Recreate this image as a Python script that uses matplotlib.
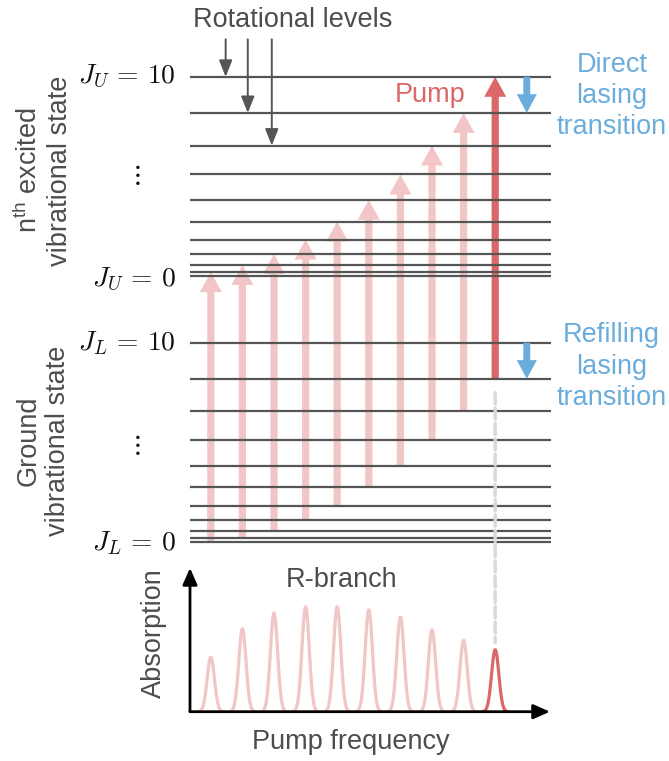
import numpy as np
import matplotlib
matplotlib.use('Agg')
import matplotlib.pyplot as plt
from matplotlib.patches import FancyArrowPatch, ConnectionPatch, ArrowStyle

plt.rcParams['font.family'] = 'Liberation Sans'
plt.rcParams['mathtext.fontset'] = 'custom'
plt.rcParams['mathtext.rm'] = 'Liberation Sans'
plt.rcParams['mathtext.it'] = 'Liberation Sans:italic'

# ---------------- data ----------------
J = np.arange(11)                      # rotational quantum numbers 0..10
UPPER_OFFSET = 147                     # gap between J_L=0 and J_U=0 (arb. units)
E_lower = J * (J + 1)
E_upper = UPPER_OFFSET + J * (J + 1)

pump_lines = np.arange(10)             # R(0) ... R(9): J_L -> J_U = J_L + 1
absorption = [0.52, 0.79, 0.94, 1.00, 1.00, 0.97, 0.90, 0.78, 0.68, 0.59]
lasing_line = 9                        # the line that is pumped

pointer_x = [0.47, 1.17, 1.93]         # "Rotational levels" pointers
pointer_J = [10, 9, 8]

# ---------------- layout / style ----------------
W, H = 669, 761
X0, DX = 210.8, 31.6                   # pixel x of line 0, pixels per line
Y0, DY = 541.7, 1.809                  # pixel y of E=0, pixels per energy unit

GRAY = '#555555'
TEXT = '#4d4d4d'
PINK = '#f2c6c6'
RED = '#db6769'
BLUE = '#6aaddc'
FS = 19.5

fig = plt.figure(figsize=(W / 100, H / 100), dpi=100)
ax = fig.add_axes([0, 0, 1, 1])
ax.set_xlim(-X0 / DX, (W - X0) / DX)
ax.set_ylim((Y0 - H) / DY, Y0 / DY)
ax.axis('off')


def fx(px):
    return px / W


def fy(py):
    return 1 - py / H


# energy levels
x_left, x_right = (190 - X0) / DX, (551 - X0) / DX
ax.hlines(E_upper, x_left, x_right, color=GRAY, lw=1.6, zorder=3)
ax.hlines(E_lower, x_left, x_right, color=GRAY, lw=1.6, zorder=3)

# pump arrows
pump_style = ArrowStyle('Simple', head_length=14.4, head_width=15.8, tail_width=5.2)
for k in pump_lines:
    c = RED if k == lasing_line else PINK
    ax.add_patch(FancyArrowPatch((k, E_lower[k]), (k, E_upper[k + 1]),
                                 arrowstyle=pump_style, mutation_scale=1,
                                 color=c, lw=0, shrinkA=0, shrinkB=0, zorder=2))

# lasing transitions (blue)
blue_style = ArrowStyle('Simple', head_length=13.5, head_width=14.4, tail_width=5.0)
for E in (E_upper, E_lower):
    ax.add_patch(FancyArrowPatch((lasing_line + 1, E[10]), (lasing_line + 1, E[9]),
                                 arrowstyle=blue_style, mutation_scale=1,
                                 color=BLUE, lw=0, shrinkA=0, shrinkB=0, zorder=4))

# rotational-level pointers
E_ptr = (Y0 - 39.3) / DY
for px_, j in zip(pointer_x, pointer_J):
    ax.add_patch(FancyArrowPatch((px_, E_ptr), (px_, E_upper[j]),
                                 arrowstyle='-|>,head_length=0.5,head_width=0.2',
                                 mutation_scale=20, color=GRAY, lw=1.4,
                                 shrinkA=0, shrinkB=0, zorder=4))

# J labels (baseline sits a few pixels below the level)
for lab, E, off in [(r'$J_U\,=\,10$', E_upper[10], 6), (r'$J_U\,=\,0$', E_upper[0], 10),
                    (r'$J_L\,=\,10$', E_lower[10], 8), (r'$J_L\,=\,0$', E_lower[0], 9)]:
    ax.text((176 - X0) / DX, E - off / DY, lab, ha='right', va='baseline',
            fontsize=19.8, color='#111111', math_fontfamily='cm')
for py in (175, 445):
    fig.text(fx(135.7), fy(py), r'$\vdots$', ha='center', va='center',
             fontsize=FS, color='#111111', math_fontfamily='cm')

# text
fig.text(fx(292.5), fy(26.7), 'Rotational levels', ha='center', va='baseline',
         fontsize=FS, color=TEXT)
fig.text(fx(430), fy(101.7), 'Pump', ha='center', va='baseline',
         fontsize=FS, color=RED)
for lines, bases in [(['Direct', 'lasing', 'transition'], [72.3, 103.3, 134.3]),
                     (['Refilling', 'lasing', 'transition'], [342.3, 373.5, 405])]:
    for s, b in zip(lines, bases):
        fig.text(fx(611.7), fy(b), s, ha='center', va='baseline',
                 fontsize=FS, color=BLUE)
fig.text(fx(43.5), fy(170.5), 'n$^{\\mathrm{th}}$ excited\nvibrational state',
         rotation=90, ha='center', va='center', fontsize=FS, color=TEXT)
fig.text(fx(43.5), fy(441), 'Ground\nvibrational state',
         rotation=90, ha='center', va='center', fontsize=FS, color=TEXT)

# ---------------- absorption spectrum ----------------
ax2 = fig.add_axes([fx(190), fy(711.7), (550 - 190) / W, (711.7 - 568) / H])
ax2.set_xlim((190 - X0) / DX, (550 - X0) / DX)
ax2.set_ylim(0, 143.7 / 105)
ax2.axis('off')

for k, a in zip(pump_lines, absorption):
    xs = np.linspace(k - 0.42, k + 0.42, 120)
    ys = a * np.exp(-0.5 * ((xs - k) / 0.115) ** 2)
    c = RED if k == lasing_line else PINK
    ax2.plot(xs, ys, color=c, lw=2.3, solid_capstyle='round', zorder=2)

for end in [(1, 0), (0, 1)]:
    ax2.add_patch(FancyArrowPatch((0, 0), end, transform=ax2.transAxes,
                                  arrowstyle='-|>,head_length=0.5,head_width=0.22',
                                  mutation_scale=20, color='black', lw=2,
                                  shrinkA=0, shrinkB=0, clip_on=False, zorder=3))

fig.text(fx(341.7), fy(586.7), 'R-branch', ha='center', va='baseline',
         fontsize=FS, color=TEXT)
fig.text(fx(154), fy(633), 'Absorption', rotation=90, ha='center', va='center',
         fontsize=FS, color=TEXT)
fig.text(fx(350.5), fy(749), 'Pump frequency', ha='center', va='baseline',
         fontsize=FS, color=TEXT)

# dashed guide from the pumped level down to its absorption line
con = ConnectionPatch(xyA=(lasing_line, E_lower[lasing_line] - 7.7), coordsA=ax.transData,
                      xyB=(lasing_line, absorption[lasing_line] + 0.07), coordsB=ax2.transData,
                      color='#d9d9d9', lw=2.5, linestyle=(0, (3.2, 1.2)), zorder=1)
fig.add_artist(con)

fig.savefig('out.png', dpi=100)
